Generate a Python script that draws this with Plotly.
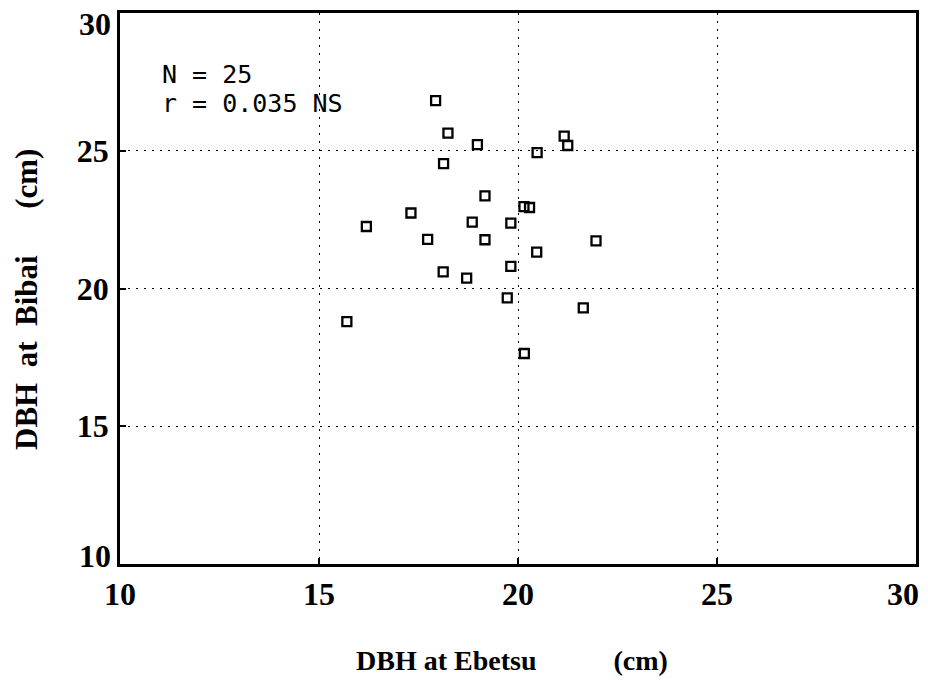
import plotly.graph_objects as go

# DBH values (cm)
ebetsu = [17.93, 18.24, 18.98, 20.48, 21.16, 21.25, 18.13, 19.17, 17.31, 16.19,
          18.85, 19.82, 20.15, 20.29, 17.73, 19.17, 21.96, 20.47, 18.12, 18.71,
          19.82, 19.73, 21.64, 15.70, 20.16]
bibai = [26.82, 25.64, 25.22, 24.93, 25.53, 25.19, 24.53, 23.36, 22.74, 22.25,
         22.41, 22.37, 22.97, 22.94, 21.78, 21.77, 21.73, 21.32, 20.60, 20.38,
         20.80, 19.66, 19.30, 18.80, 17.64]
tick_vals = [10, 15, 20, 25, 30]
tick_text = ["10", "15", "20", "25", "30"]
stat_lines = ["N = 25", "r = 0.035 NS"]
x_title_parts = ["DBH at Ebetsu", "(cm)"]
y_title_parts = ["DBH  at  Bibai", "(cm)"]

NB = "\u00a0"
x_title = x_title_parts[0].replace(" ", NB) + NB * 11 + x_title_parts[1]
y_title = y_title_parts[0].replace(" ", NB) + NB * 6 + y_title_parts[1]

serif = "Liberation Serif, Times New Roman, serif"
tick_font = dict(family=serif, size=32, color="black", weight="bold")

# plot-area pixel geometry
L, R, T, B = 120, 916, 13, 564
W, H = 928, 681
PW, PH = R - L, B - T

# edge labels are drawn as annotations, nudged inside the page like the reference
x_tick_disp = tick_text[:-1] + [""]
y_tick_disp = [""] + tick_text[1:-1] + [""]

fig = go.Figure()
fig.add_trace(go.Scatter(
    x=ebetsu, y=bibai, mode="markers",
    marker=dict(symbol="square-open", size=9, color="black",
                line=dict(color="black", width=2.3)),
    showlegend=False, hoverinfo="x+y",
))

axis_common = dict(
    tickvals=tick_vals,
    showgrid=True, gridcolor="black", gridwidth=1.3, griddash="2px,6px",
    showline=True, linecolor="black", linewidth=2.5, mirror=True,
    ticks="inside", ticklen=6, tickwidth=2, tickcolor="black",
    zeroline=False, ticklabeloverflow="allow", automargin=False,
    tickfont=tick_font,
)

fig.update_xaxes(range=[10, 30], ticktext=x_tick_disp, ticklabelstandoff=0, **axis_common)
fig.update_yaxes(range=[10, 30], ticktext=y_tick_disp, ticklabelstandoff=2, **axis_common)

annotations = []
for i, line in enumerate(stat_lines):
    annotations.append(dict(
        x=11.0, y=[27.75, 26.73][i], xref="x", yref="y",
        text=line, showarrow=False, xanchor="left", yanchor="middle",
        font=dict(family="DejaVu Sans Mono, monospace", size=25, color="black"),
    ))
# edge tick labels
annotations.append(dict(  # x = 30
    x=1, y=-(594 - B) / PH, xref="paper", yref="paper", text=tick_text[-1],
    showarrow=False, xanchor="right", yanchor="middle", xshift=5, font=tick_font,
))
annotations.append(dict(  # y = 30
    x=-(L - 113) / PW, y=(B - 24) / PH, xref="paper", yref="paper", text=tick_text[-1],
    showarrow=False, xanchor="right", yanchor="middle", font=tick_font,
))
annotations.append(dict(  # y = 10
    x=-(L - 113) / PW, y=(B - 556) / PH, xref="paper", yref="paper", text=tick_text[0],
    showarrow=False, xanchor="right", yanchor="middle", font=tick_font,
))
annotations.append(dict(
    x=(512 - L) / PW, y=-(660 - B) / PH,
    xref="paper", yref="paper", text=x_title, showarrow=False,
    xanchor="center", yanchor="middle",
    font=dict(family=serif, size=28, color="black", weight="bold"),
))
annotations.append(dict(
    x=-(L - 27) / PW, y=(B - 300) / PH,
    xref="paper", yref="paper", text=y_title, showarrow=False,
    textangle=-90, xanchor="center", yanchor="middle",
    font=dict(family=serif, size=31, color="black", weight="bold"),
))

fig.update_layout(
    width=W, height=H,
    margin=dict(l=L, r=W - R, t=T, b=H - B, autoexpand=False),
    paper_bgcolor="white", plot_bgcolor="white",
    annotations=annotations,
)

fig.write_html(
    "out.html",
    config={"displayModeBar": False},
    post_script="document.body.style.margin='0';document.body.style.overflow='hidden';",
)
